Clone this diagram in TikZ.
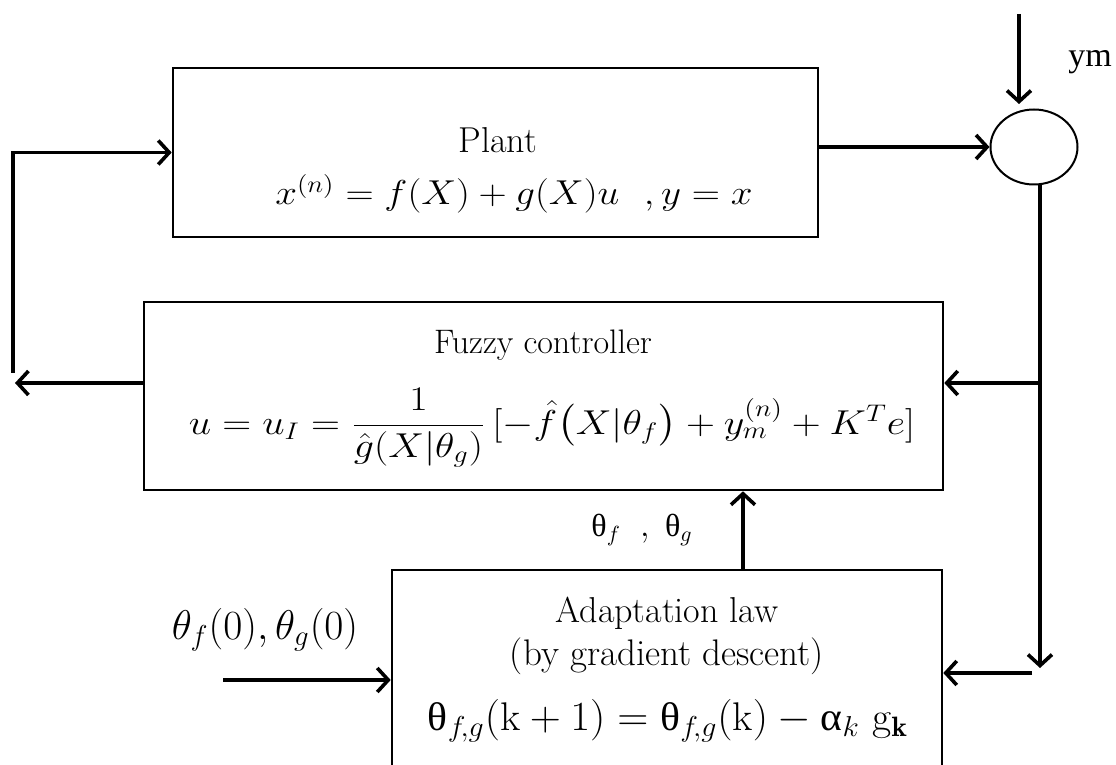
\documentclass[tikz,border=0pt]{standalone}
\usepackage{amsmath,amssymb}
\usepackage{fontspec}
\newfontfamily\grkfont{Liberation Serif}
\newcommand{\upth}{\text{\grkfont θ}}
\newcommand{\upal}{\text{\grkfont α}}
\usetikzlibrary{arrows.meta,positioning,shapes.geometric}

\begin{document}
\begin{tikzpicture}[x=0.5pt,y=-0.5pt,
  blk/.style={draw,line width=1.3pt,inner sep=0pt},
  arr/.style={line width=1.8pt,-{Straight Barb[length=5.5pt,width=12pt]}},
  ln/.style={line width=1.8pt}]
\useasboundingbox (0,0) rectangle (1116,765);
\clip (0,0) rectangle (1116,765);

% blocks
\node[blk,minimum width=322.5pt,minimum height=84.5pt] (plant) at (495.5,152.5) {};
\node[blk,minimum width=399.5pt,minimum height=94pt] (fuzzy) at (543.5,396) {};
\node[blk,minimum width=275pt,minimum height=110pt] (adapt) at (667,680) {};
\node[draw,ellipse,line width=1pt,minimum width=43.5pt,minimum height=37.5pt,inner sep=0pt] (sum) at (1034,147) {};

% texts in the blocks
\node (plantname) at (498,140) {\fontsize{18}{20}\selectfont Plant};
\node (plantlaw) at (514,194) {\fontsize{18}{20}\selectfont
  \scalebox{1.13}[1]{$x^{(n)} = f(X) + g(X)u\ \ ,y = x$}};
\node[inner sep=1pt] (fuzzyname) at (543,345) {\fontsize{17}{19}\selectfont Fuzzy controller};
\node[inner sep=0pt] (fuzzylaw) at (552,428) {\fontsize{17.5}{20}\selectfont
  \scalebox{1.16}[1]{$u = u_I = \dfrac{1}{\hat{g}(X|\theta_g)}\,[-\hat{f}\bigl(X|\theta_f\bigr) + y_m^{(n)} + K^T e]$}};
\node (adaptname) at (667,613) {\fontsize{18}{20}\selectfont Adaptation law};
\node (adaptway) at (667,656) {\fontsize{18.5}{20}\selectfont (by gradient descent)};
\node (adaptlaw) at (668,721) {\fontsize{20}{22}\selectfont
  \scalebox{1.04}[1]{$\upth_{f\!,g}(\mathrm{k}+1) = \upth_{f\!,g}(\mathrm{k}) - \upal_k\ \mathrm{g}_{\mathbf{k}}$}};

% outside labels
\node (ymlabel) at (1090,62) {\fontsize{17}{19}\selectfont\grkfont ym};
\node (thetaout) at (642,530) {\fontsize{16}{18}\selectfont $\upth_f\ \ ,\ \upth_g$};
\node (thetainit) at (265,630) {\fontsize{20.5}{22}\selectfont $\theta_f(0),\theta_g(0)$};

% connector points
\coordinate (fbtop) at (13,373);
\coordinate (fbend) at (15,383);
\coordinate (ymtop) at (1019,14);
\coordinate (ymend) at (1019,104);
\coordinate (split) at (1040,383);
\coordinate (downend) at (1040,668);
\coordinate (backstart) at (1032,673);
\coordinate (initstart) at (223,680);
\coordinate (paramx) at (743,530);

% connectors
\draw[arr] (fbtop) |- (plant.west);
\draw[arr] (fuzzy.west |- fbend) -- (fbend);
\draw[arr] (plant.east |- sum.west) -- (sum.west);
\draw[arr] (ymtop) -- (ymend);
\draw[ln] (sum.south -| split) -- (split);
\draw[arr] (split) -- (downend);
\draw[arr] (split) -- (fuzzy.east |- split);
\draw[arr] (backstart) -- (adapt.east |- backstart);
\draw[arr] (initstart) -- (adapt.west |- initstart);
\draw[arr] (adapt.north -| paramx) -- (fuzzy.south -| paramx);
\end{tikzpicture}
\end{document}
